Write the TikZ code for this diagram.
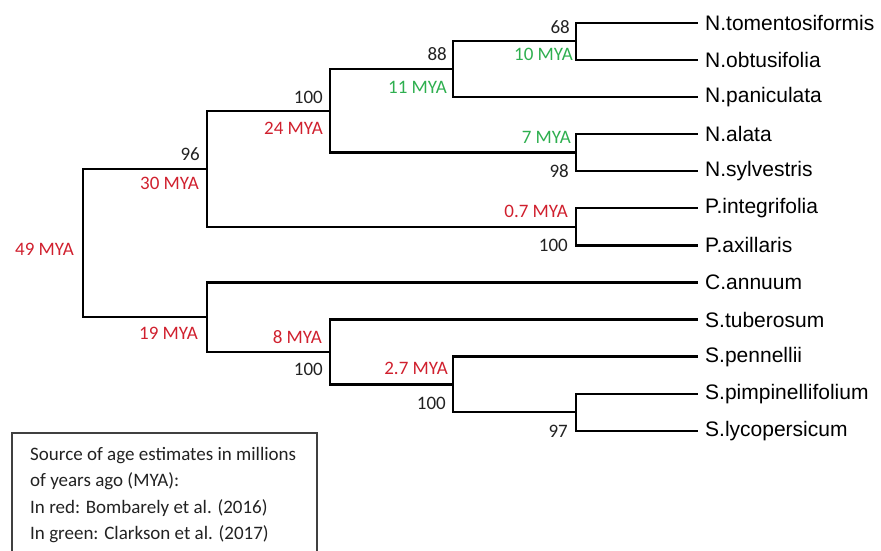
\documentclass[tikz,border=0pt]{standalone}
\usepackage{xcolor}
\usepackage{fontspec}
\usepackage{tikz}
\usetikzlibrary{positioning,calc}
\setmainfont{Carlito}
\newfontfamily\leaffont{Liberation Sans}
\definecolor{myared}{HTML}{D0202E}
\definecolor{myagreen}{HTML}{2EAF4F}
\definecolor{supgray}{HTML}{222222}

\begin{document}
\begin{tikzpicture}[x=1pt, y=-1pt,
  branch/.style={line width=2.4pt, line join=miter},
  leaf/.style={anchor=west, inner xsep=7pt, inner ysep=0pt, font=\leaffont\fontsize{21}{24}\selectfont},
  sup/.style={anchor=east, inner sep=0pt, text=supgray, font=\fontsize{19}{22}\selectfont},
  agered/.style={sup, text=myared},
  agegreen/.style={sup, text=myagreen}
]
\useasboundingbox (0,0) rectangle (881,550);

% taxa
\node[leaf] (tom) at (698,22.7) {N.tomentosiformis};
\node[leaf] (obt) at (698,59.8) {N.obtusifolia};
\node[leaf] (pan) at (698,96.9) {N.paniculata};
\node[leaf] (ala) at (698,134) {N.alata};
\node[leaf] (syl) at (698,171.1) {N.sylvestris};
\node[leaf] (int) at (698,208.2) {P.integrifolia};
\node[leaf] (axi) at (698,245.3) {P.axillaris};
\node[leaf] (ann) at (698,282.4) {C.annuum};
\node[leaf] (tub) at (698,319.5) {S.tuberosum};
\node[leaf] (pen) at (698,356.6) {S.pennellii};
\node[leaf] (pim) at (698,393.7) {S.pimpinellifolium};
\node[leaf] (lyc) at (698,430.8) {S.lycopersicum};

% internal nodes
\coordinate (nTO) at (576,41.25);
\coordinate (nPA) at (453,69.1);
\coordinate (nAS) at (576,152.55);
\coordinate (nNic) at (330,110.8);
\coordinate (nPet) at (576,226.75);
\coordinate (nNP) at (207,168.8);
\coordinate (nRoot) at (83,242.9);
\coordinate (nLP) at (576,412.25);
\coordinate (nPen) at (453,384.4);
\coordinate (nTub) at (330,351.95);
\coordinate (nSol) at (207,317.2);

% branches
\draw[branch] (nTO) |- (tom.west); \draw[branch] (nTO) |- (obt.west);
\draw[branch] (nPA) |- (nTO); \draw[branch] (nPA) |- (pan.west);
\draw[branch] (nAS) |- (ala.west); \draw[branch] (nAS) |- (syl.west);
\draw[branch] (nNic) |- (nPA); \draw[branch] (nNic) |- (nAS);
\draw[branch] (nPet) |- (int.west); \draw[branch] (nPet) |- (axi.west);
\draw[branch] (nNP) |- (nNic); \draw[branch] (nNP) |- (nPet);
\draw[branch] (nLP) |- (pim.west); \draw[branch] (nLP) |- (lyc.west);
\draw[branch] (nPen) |- (pen.west); \draw[branch] (nPen) |- (nLP);
\draw[branch] (nTub) |- (tub.west); \draw[branch] (nTub) |- (nPen);
\draw[branch] (nSol) |- (ann.west); \draw[branch] (nSol) |- (nTub);
\draw[branch] (nRoot) |- (nNP); \draw[branch] (nRoot) |- (nSol);

% support values and ages
\node[sup] (s68) at (570,27) {68};
\node[agegreen] (a10) at (573,54) {10 MYA};
\node[sup] (s88) at (447,54) {88};
\node[agegreen] (a11) at (447,87) {11 MYA};
\node[sup] (s100a) at (323,97) {100};
\node[agered] (a24) at (323,128) {24 MYA};
\node[sup] (s96) at (200,154) {96};
\node[agered] (a30) at (199,183) {30 MYA};
\node[agered] (a49) at (74,249) {49 MYA};
\node[agegreen] (a7) at (571,137) {7 MYA};
\node[sup] (s98) at (569,171) {98};
\node[agered] (a07) at (568,211) {0.7 MYA};
\node[sup] (s100b) at (568,245) {100};
\node[agered] (a19) at (198,333) {19 MYA};
\node[agered] (a8) at (322,337) {8 MYA};
\node[sup] (s100c) at (323,369) {100};
\node[agered] (a27) at (448,368) {2.7 MYA};
\node[sup] (s100d) at (446,403) {100};
\node[sup] (s97) at (568,431) {97};

% legend
\draw[line width=1.4pt, draw=black!75] (12,560) -- (12,433) -- (317,433) -- (317,560);
\node[anchor=north west, inner sep=0pt, align=left, text=supgray, font=\fontsize{19}{26.5}\selectfont] (legend) at (30,447)
  {Source of age estimates in millions\\of years ago (MYA):\\In red: Bombarely et al. (2016)\\In green: Clarkson et al. (2017)};
\end{tikzpicture}
\end{document}
